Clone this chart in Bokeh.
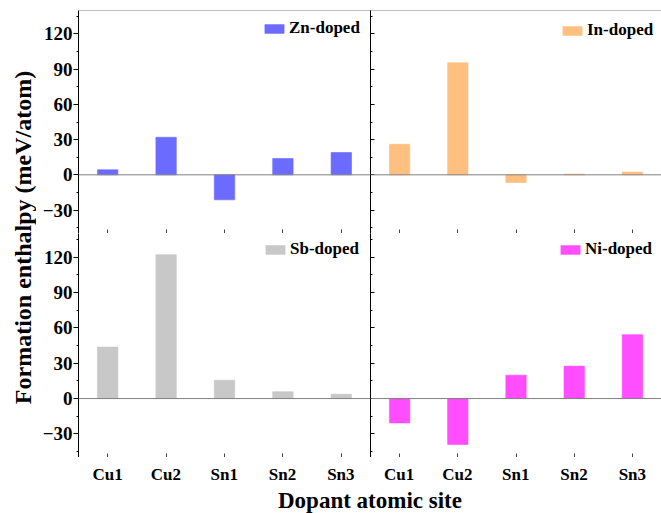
from bokeh.plotting import figure
from bokeh.layouts import gridplot, row, column
from bokeh.models import (Range1d, FixedTicker, Span, Legend,
                          LegendItem, Label, LinearAxis)
from bokeh.core.properties import value
from bokeh.embed import file_html
from bokeh.resources import INLINE
import math

sites = ["Cu1", "Cu2", "Sn1", "Sn2", "Sn3"]
zn_doped = [4.3, 32.0, -21.3, 13.9, 19.0]
in_doped = [26.0, 95.5, -6.5, 0.6, 2.3]
sb_doped = [43.7, 122.0, 15.6, 5.8, 3.7]
ni_doped = [-20.7, -38.9, 19.8, 27.5, 54.2]
series_labels = ["Zn-doped", "In-doped", "Sb-doped", "Ni-doped"]
series_colors = ["#6b6bff", "#ffc07f", "#c8c8c8", "#ff4dff"]
y_ticks = [-30, 0, 30, 60, 90, 120]
y_minor_ticks = [-45, -15, 15, 45, 75, 105, 135]
y_start, y_end = -50, 140
y_title = "Formation enthalpy (meV/atom)"
x_title = "Dopant atomic site"

FONT = "Liberation Serif"
GRAY = "#808080"
XLAB_H = 513 - 233 - 224

site_pos = list(range(len(sites)))


def bare_axis(ticks, length, color):
    ax = LinearAxis(ticker=FixedTicker(ticks=[], minor_ticks=ticks))
    ax.axis_line_color = color
    ax.major_tick_line_color = None
    ax.minor_tick_line_color = "#404040" if color == GRAY else "black"
    ax.minor_tick_in = length
    ax.minor_tick_out = 0
    ax.major_tick_in = 0
    ax.major_tick_out = 0
    ax.major_label_standoff = 0
    return ax


def panel(vals, label, color, left, bottom, legend_xy):
    fw = 292 if left else 291
    fh = 224 if bottom else 223
    p = figure(frame_width=fw, frame_height=fh,
               x_range=Range1d(-0.5, len(sites) - 0.5),
               y_range=Range1d(y_start, y_end),
               output_backend="svg", toolbar_location=None,
               x_axis_location=None,
               y_axis_location="left" if left else None,
               min_border_left=42 if left else 0, min_border_right=0,
               min_border_top=0 if bottom else 10,
               min_border_bottom=0)
    p.outline_line_color = None
    p.xgrid.visible = False
    p.ygrid.visible = False
    p.background_fill_color = "white"
    p.border_fill_color = "white"

    r = p.vbar(x=site_pos, top=vals, bottom=0, width=0.35,
               fill_color=color, line_color=color, line_alpha=0.6)

    p.add_layout(Span(location=0, dimension="width", line_color=GRAY,
                      line_width=1))
    if not bottom:
        p.add_layout(Span(location=y_end, dimension="width",
                          line_color=GRAY, line_width=1))

    # y axis
    if left:
        ya = p.yaxis[0]
        ya.ticker = FixedTicker(ticks=y_ticks, minor_ticks=y_minor_ticks)
        ya.axis_line_color = "black"
        ya.major_tick_line_color = "black"
        ya.minor_tick_line_color = "black"
        ya.major_tick_out = 5
        ya.major_tick_in = 0
        ya.minor_tick_out = 2
        ya.minor_tick_in = 0
        ya.major_label_text_font = FONT
        ya.major_label_text_font_style = "bold"
        ya.major_label_text_font_size = "19px"
        ya.major_label_text_color = "black"
        ya.major_label_standoff = 1
    else:
        p.add_layout(bare_axis(y_ticks, 4, "black"), "left")
        p.add_layout(bare_axis(y_minor_ticks, 2, "black"), "left")

    # x axis (ticks only; category labels are drawn in the strip below)
    p.add_layout(bare_axis(site_pos, 4, GRAY), "below")

    leg = Legend(items=[LegendItem(label=label, renderers=[r])],
                 location=legend_xy, orientation="vertical",
                 glyph_width=24, glyph_height=11, label_height=11,
                 label_standoff=3, padding=0, margin=0, spacing=0,
                 border_line_color=None, background_fill_alpha=0,
                 label_text_font=FONT, label_text_font_style="bold",
                 label_text_font_size="17px", label_text_color="black")
    p.add_layout(leg)
    return p


tl = panel(zn_doped, series_labels[0], series_colors[0], True, False, (184, 195))
tr = panel(in_doped, series_labels[1], series_colors[1], False, False, (190, 193))
bl = panel(sb_doped, series_labels[2], series_colors[2], True, True, (185, 198))
br = panel(ni_doped, series_labels[3], series_colors[3], False, True, (188, 198))

grid = gridplot([[tl, tr], [bl, br]], toolbar_location=None)


def blank(w, h, x_range, y_range, left=0):
    f = figure(width=w, height=h, x_range=x_range, y_range=y_range,
               x_axis_location=None, y_axis_location=None,
               output_backend="svg", toolbar_location=None,
               min_border=0, min_border_left=left, min_border_right=0,
               min_border_top=0, min_border_bottom=0)
    f.outline_line_color = None
    f.xgrid.visible = False
    f.ygrid.visible = False
    return f


ylab = blank(36, 513, Range1d(0, 36), Range1d(0, 513))
ylab.add_layout(Label(x=22, y=276, text=y_title, angle=math.pi / 2,
                      text_align="center", text_baseline="middle",
                      text_font=FONT, text_font_style="bold",
                      text_font_size="24px", text_color="black"))

# bottom strip: same x scale as the two panels side by side
n = len(sites)
xlab = blank(625, XLAB_H, Range1d(-0.5, 2 * n - 0.5), Range1d(0, XLAB_H), left=42)
xlab.text(x=site_pos + [i + n for i in site_pos], y=[XLAB_H - 17] * (2 * n),
          text=sites + sites, text_align="center", text_baseline="middle",
          text_font=value(FONT), text_font_style="bold",
          text_font_size="17px", text_color="black")
xlab.add_layout(Label(x=n - 0.5, y=13, text=x_title,
                      text_align="center", text_baseline="alphabetic",
                      text_font=FONT, text_font_style="bold",
                      text_font_size="23px", text_color="black"))

layout = row(ylab, column(grid, xlab))

open("out.html", "w").write(file_html(layout, INLINE))
